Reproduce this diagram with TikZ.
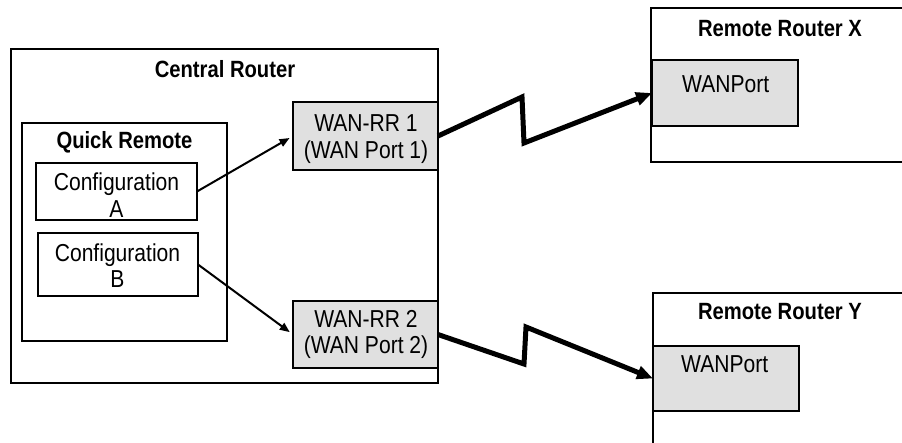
\documentclass[tikz,border=0pt]{standalone}
\usepackage{fontspec}
\setmainfont{Liberation Sans}[FakeStretch=0.86]
\usetikzlibrary{arrows.meta}
\definecolor{portgray}{RGB}{224,224,224}
\begin{document}
\begin{tikzpicture}[x=1pt,y=-1pt,
  box/.style={draw, line width=2.5pt, rectangle, inner sep=0pt, outer sep=0pt},
  portbox/.style={box, fill=portgray},
  lbl/.style={inner sep=0pt, align=center, font=\fontsize{24.5}{26.5}\selectfont},
  title/.style={inner sep=0pt, anchor=base, font=\fontsize{23.5}{25}\selectfont\bfseries},
  link/.style={line width=2pt, -{Triangle[length=10pt,width=8pt]}, shorten >=4pt},
  wan/.style={line width=5pt, line join=miter, -{Triangle[length=16pt,width=13pt]}}]
\useasboundingbox (0,0) rectangle (902,442);

% central router and its contents
\node[box, minimum width=427, minimum height=334] (cr) at (224.5,216) {};
\node[title] (crt) at (225,77) {Central Router};
\node[box, minimum width=205, minimum height=218] (qr) at (124.5,232) {};
\node[title] (qrt) at (124.5,148) {Quick Remote};
\node[box, minimum width=161, minimum height=57] (cfga) at (116.5,191.5) {};
\node[lbl] (cfgat) at (116.5,195) {Configuration\\A};
\node[box, minimum width=160, minimum height=63] (cfgb) at (118,264.5) {};
\node[lbl] (cfgbt) at (117.5,265.5) {Configuration\\B};
\node[portbox, minimum width=145, minimum height=68] (rr1) at (365.5,136) {};
\node[lbl] (rr1t) at (366,139) {WAN-RR 1\\(WAN Port 1)};
\node[portbox, minimum width=145, minimum height=67] (rr2) at (365.5,334.5) {};
\node[lbl] (rr2t) at (366,334.5) {WAN-RR 2\\(WAN Port 2)};

% remote routers
\node[box, minimum width=261, minimum height=154] (rx) at (781.5,85) {};
\node[title] (rxt) at (780,36) {Remote Router X};
\node[portbox, minimum width=146, minimum height=66] (wx) at (725,93) {};
\node[lbl, anchor=base west] (wxt) at (682,92) {WANPort};
\node[box, minimum width=259, minimum height=177] (ry) at (782.5,381.5) {};
\node[title] (ryt) at (780,319) {Remote Router Y};
\node[portbox, minimum width=146, minimum height=65] (wy) at (726,378.5) {};
\node[lbl, anchor=base west] (wyt) at (681,372) {WANPort};

% configuration to port assignments
\draw[link] (cfga.east) -- (rr1.west);
\draw[link] (cfgb.east) -- (rr2.west);

% WAN links
\draw[wan] (rr1.east) -- ++(84,-39) -- ++(2,46) -- (wx.west);
\draw[wan] (rr2.east) -- ++(86,29.5) -- ++(2,-37) -- (wy.west);
\end{tikzpicture}
\end{document}
